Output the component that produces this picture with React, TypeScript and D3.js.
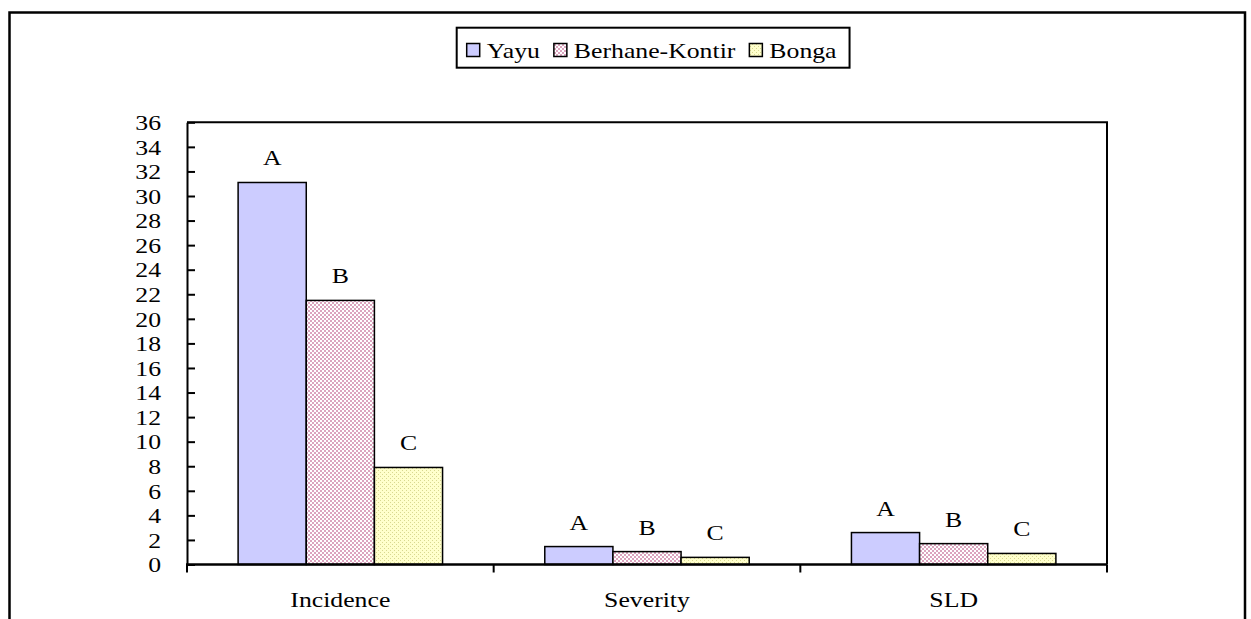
import React, { useRef, useEffect } from "react";
import * as d3 from "d3";

const CATEGORIES = ["Incidence", "Severity", "SLD"];
const SERIES = ["Yayu", "Berhane-Kontir", "Bonga"];
const YAYU = [31.1, 1.46, 2.6];
const BERHANE = [21.5, 1.05, 1.7];
const BONGA = [7.9, 0.58, 0.9];
const LETTERS = ["A", "B", "C"];
const Y_TICKS = d3.range(0, 37, 2);

const W = 1251, H = 619;
const FONT = "'Liberation Serif', 'Times New Roman', serif";
const SX = 1.17; // text in the source is stretched sideways
const FS = "22px";

export default function App() {
  const svgRef = useRef<SVGSVGElement>(null);

  useEffect(() => {
    const svg = d3.select(svgRef.current);
    svg.selectAll("*").remove();

    const plot = { left: 187, right: 1107, top: 122.3, bottom: 564.5 };
    const values = [YAYU, BERHANE, BONGA];

    const x0 = d3.scaleBand<string>().domain(CATEGORIES).range([plot.left, plot.right]);
    const x1 = d3.scaleBand<string>().domain(SERIES).range([0, x0.bandwidth()])
      .paddingInner(0).paddingOuter(0.75);
    const y = d3.scaleLinear().domain([0, 36]).range([plot.bottom, plot.top]);

    // fills
    const defs = svg.append("defs");
    const pBer = defs.append("pattern").attr("id", "pBer").attr("width", 4).attr("height", 4)
      .attr("patternUnits", "userSpaceOnUse");
    pBer.append("rect").attr("width", 4).attr("height", 4).attr("fill", "#dba4be");
    pBer.append("rect").attr("x", 0).attr("y", 0).attr("width", 2).attr("height", 2).attr("fill", "#fff");
    pBer.append("rect").attr("x", 2).attr("y", 2).attr("width", 2).attr("height", 2).attr("fill", "#fff");
    const pBon = defs.append("pattern").attr("id", "pBon").attr("width", 4).attr("height", 4)
      .attr("patternUnits", "userSpaceOnUse");
    pBon.append("rect").attr("width", 4).attr("height", 4).attr("fill", "#ffffcc");
    pBon.append("rect").attr("x", 0).attr("y", 0).attr("width", 1).attr("height", 1).attr("fill", "#d8d890");
    pBon.append("rect").attr("x", 2).attr("y", 2).attr("width", 1).attr("height", 1).attr("fill", "#d8d890");
    const fills = ["#ccccff", "url(#pBer)", "url(#pBon)"];

    // outer frame
    svg.append("path")
      .attr("d", `M9.5,${H} V12.5 H1245 V${H}`)
      .attr("fill", "none").attr("stroke", "#000").attr("stroke-width", 2.5);

    // plot frame (top & right)
    svg.append("path")
      .attr("d", `M${plot.left},${plot.top} H${plot.right} V${plot.bottom}`)
      .attr("fill", "none").attr("stroke", "#000").attr("stroke-width", 2);

    // bars
    const data = CATEGORIES.flatMap((c, ci) =>
      SERIES.map((s, si) => ({ c, s, si, v: values[si][ci] })));

    svg.append("g").selectAll("rect").data(data).join("rect")
      .attr("x", d => x0(d.c)! + x1(d.s)!)
      .attr("y", d => y(d.v))
      .attr("width", x1.bandwidth())
      .attr("height", d => y(0) - y(d.v))
      .attr("fill", d => fills[d.si])
      .attr("stroke", "#000").attr("stroke-width", 1.5);

    // letters
    svg.append("g").selectAll("text").data(data).join("text")
      .attr("transform", d => `translate(${x0(d.c)! + x1(d.s)! + x1.bandwidth() / 2},${y(d.v) - 17}) scale(${SX},1)`)
      .attr("text-anchor", "middle")
      .style("font-family", FONT).style("font-size", FS).style("fill", "#000")
      .text(d => LETTERS[d.si]);

    // y axis
    const yAxis = svg.append("g")
      .attr("transform", `translate(${plot.left},0)`)
      .call(d3.axisLeft(y).tickValues(Y_TICKS).tickSizeInner(-8).tickSizeOuter(0).tickPadding(26));
    yAxis.select(".domain").attr("stroke-width", 2);
    yAxis.selectAll(".tick line").attr("stroke-width", 2);
    yAxis.selectAll<SVGTextElement, number>(".tick text")
      .attr("x", null)
      .attr("dy", "0.33em")
      .attr("transform", `translate(-26,0) scale(${SX},1)`)
      .style("font-family", FONT).style("font-size", FS).style("fill", "#000");

    // x axis
    svg.append("line")
      .attr("x1", plot.left - 1).attr("x2", plot.right)
      .attr("y1", plot.bottom).attr("y2", plot.bottom)
      .attr("stroke", "#000").attr("stroke-width", 2.5);
    const bounds = [...CATEGORIES.map(c => x0(c)!), plot.right];
    svg.append("g").selectAll("line").data(bounds).join("line")
      .attr("x1", d => d).attr("x2", d => d)
      .attr("y1", plot.bottom).attr("y2", plot.bottom + 8)
      .attr("stroke", "#000").attr("stroke-width", 2);
    svg.append("g").selectAll("text").data(CATEGORIES).join("text")
      .attr("transform", d => `translate(${x0(d)! + x0.bandwidth() / 2},607) scale(${SX},1)`)
      .attr("text-anchor", "middle")
      .style("font-family", FONT).style("font-size", FS).style("fill", "#000")
      .text(d => d);

    // legend
    const lg = svg.append("g");
    const box = lg.append("rect")
      .attr("fill", "#fff").attr("stroke", "#000").attr("stroke-width", 2);
    let cx = 466.7;
    SERIES.forEach((s, i) => {
      lg.append("rect")
        .attr("x", cx).attr("y", 43.5).attr("width", 13).attr("height", 13)
        .attr("fill", fills[i]).attr("stroke", "#000").attr("stroke-width", 1.5);
      const t = lg.append("text")
        .attr("transform", `translate(${cx + 20},57.5) scale(${SX},1)`)
        .style("font-family", FONT).style("font-size", FS).style("fill", "#000")
        .text(s);
      const w = (t.node() as SVGTextElement).getComputedTextLength() * SX;
      cx = cx + 20 + w + 14;
    });
    box.attr("x", 456.7).attr("y", 27.7).attr("width", cx - 14 + 13 - 456.7).attr("height", 40);
  }, []);

  return (
    <svg
      ref={svgRef}
      width={W}
      height={H}
      style={{ position: "absolute", left: 0, top: 0, background: "#fff", display: "block" }}
    />
  );
}
